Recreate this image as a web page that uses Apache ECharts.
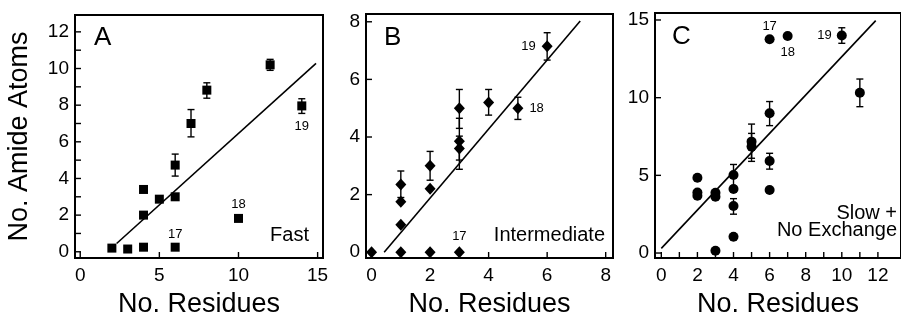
<!DOCTYPE html>
<html>
<head>
<meta charset="utf-8">
<script src="https://cdn.jsdelivr.net/npm/echarts@6/dist/echarts.min.js"></script>
<style>
  html, body { margin: 0; padding: 0; background: #fff; }
  #chart { width: 901px; height: 323px; }
</style>
</head>
<body>
<div id="chart"></div>
<script>
// A: fast exchange
const fastX = [2, 3, 4, 4, 4, 5, 6, 6, 6, 7, 8, 10, 12, 14];
const fastY = [0.2, 0.15, 0.25, 2.0, 3.4, 2.87, 0.25, 3.0, 4.73, 7.0, 8.82, 1.82, 10.2, 7.96];
const fastTags = ['', '', '', '', '', '', '17', '', '', '', '', '18', '', '19'];
const fastErr = [[5, 2.7, 3.05], [6, 4.13, 5.33], [7, 6.27, 7.76], [8, 8.38, 9.22], [12, 9.9, 10.5], [14, 7.55, 8.35]];
const fastFit = [[2.3, 0.45], [14.9, 10.28]];
const fastTicksX = [0, 5, 10, 15];
const fastTicksY = [0, 1, 2, 3, 4, 5, 6, 7, 8, 9, 10, 11, 12];
const fastLabelsY = [0, 2, 4, 6, 8, 10, 12];

// B: intermediate
const interX = [0, 1, 1, 1, 1, 2, 2, 2, 3, 3, 3, 3, 4, 5, 6];
const interY = [0, 0, 0.95, 1.75, 2.35, 0, 2.2, 3.0, 0, 3.6, 3.85, 5.0, 5.2, 5.0, 7.15];
const interTags = ['', '', '', '', '', '', '', '', '17', '', '', '', '', '18', '19'];
const interErr = [[1, 1.9, 2.82], [2, 2.5, 3.5], [3, 3.2, 4.03], [3, 2.88, 4.65], [3, 4.3, 5.65], [4, 4.76, 5.65], [5, 4.61, 5.38], [6, 6.67, 7.62]];
const interFit = [[0.43, 0], [7.13, 8.03]];
const interTicksX = [0, 2, 4, 6, 8];
const interTicksY = [0, 2, 4, 6, 8];

// C: slow + no exchange
const slowX = [2, 2, 2, 3, 3, 3, 4, 4, 4, 4, 5, 5, 6, 6, 6, 6, 7, 10, 11];
const slowY = [4.85, 3.9, 3.69, 3.88, 3.63, 0.15, 5.02, 4.12, 3.03, 1.05, 7.17, 6.85, 9.0, 5.92, 4.06, 13.76, 13.97, 14.0, 10.32];
const slowTags = ['', '', '', '', '', '', '', '', '', '', '', '', '', '', '', '17', '18', '19', ''];
const slowErr = [[4, 4.3, 5.7], [4, 2.5, 3.5], [5, 6.1, 8.3], [5, 5.9, 7.7], [6, 8.2, 9.75], [6, 5.4, 6.42], [10, 13.5, 14.5], [11, 9.42, 11.2]];
const slowFit = [[0.0, 0.3], [11.88, 14.96]];
const slowTicksX = [0, 1, 2, 3, 4, 5, 6, 7, 8, 9, 10, 11, 12];
const slowLabelsX = [0, 2, 4, 6, 8, 10, 12];
const slowTicksY = [0, 5, 10, 15];

const FONT = "'Liberation Sans', Arial, Helvetica, sans-serif";

const panels = [
  {
    grid: { left: 75, top: 15, width: 248, height: 243 },
    x: [-0.33, 15.34], y: [-0.34, 12.92],
    ticksX: fastTicksX, labelsX: fastTicksX, ticksY: fastTicksY, labelsY: fastLabelsY,
    xs: fastX, ys: fastY, tags: fastTags, err: fastErr, fit: fastFit,
    symbol: 'rect', size: 9, yName: 'No. Amide Atoms',
    tagPos: { '17': ['top', 2], '18': ['top', 3], '19': ['bottom', 10] }
  },
  {
    grid: { left: 366, top: 14, width: 247, height: 244 },
    x: [-0.19, 8.25], y: [-0.2, 8.27],
    ticksX: interTicksX, labelsX: interTicksX, ticksY: interTicksY, labelsY: interTicksY,
    xs: interX, ys: interY, tags: interTags, err: interErr, fit: interFit,
    symbol: 'diamond', size: [11, 12], yName: '',
    tagPos: { '17': ['top', 3], '18': ['right', 6], '19': ['left', 6] }
  },
  {
    grid: { left: 655, top: 13, width: 255, height: 245 },
    x: [-0.35, 13.28], y: [-0.32, 15.45],
    ticksX: slowTicksX, labelsX: slowLabelsX, ticksY: slowTicksY, labelsY: slowTicksY,
    xs: slowX, ys: slowY, tags: slowTags, err: slowErr, fit: slowFit,
    symbol: 'circle', size: 10, yName: '',
    tagPos: { '17': ['top', 1], '18': ['bottom', 5], '19': ['left', 5] }
  }
];

const axisLine = { show: true, onZero: false, lineStyle: { color: '#000', width: 2 } };
const TICK_LEN = 6;
const inkStyle = { stroke: '#000', lineWidth: 1.4 };

const grids = [], xAxes = [], yAxes = [], series = [];

panels.forEach((p, i) => {
  grids.push(Object.assign({
    show: true, borderColor: '#000', borderWidth: 2, backgroundColor: 'transparent'
  }, p.grid));

  xAxes.push({
    type: 'value', gridIndex: i, min: p.x[0], max: p.x[1],
    axisLine,
    axisTick: { show: false },
    axisLabel: { customValues: p.labelsX, color: '#000', fontFamily: FONT, fontSize: 19, margin: 8 },
    splitLine: { show: false },
    name: 'No. Residues', nameLocation: 'middle', nameGap: 33,
    nameTextStyle: { color: '#000', fontFamily: FONT, fontSize: 27 }
  });

  yAxes.push({
    type: 'value', gridIndex: i, min: p.y[0], max: p.y[1],
    axisLine,
    axisTick: { show: false },
    axisLabel: { customValues: p.labelsY, color: '#000', fontFamily: FONT, fontSize: 19, margin: 6 },
    splitLine: { show: false },
    name: p.yName, nameLocation: 'middle', nameGap: 42,
    nameTextStyle: { color: '#000', fontFamily: FONT, fontSize: 27 }
  });

  // inside tick marks on the bottom axis
  series.push({
    type: 'custom', xAxisIndex: i, yAxisIndex: i, z: 4, silent: true,
    data: p.ticksX.map(v => [v, 0]),
    renderItem: (params, api) => {
      const cs = params.coordSys;
      const px = api.coord([api.value(0), 0])[0];
      const by = cs.y + cs.height;
      return { type: 'line', shape: { x1: px, y1: by, x2: px, y2: by - TICK_LEN }, style: inkStyle };
    }
  });

  // inside tick marks on the left axis
  series.push({
    type: 'custom', xAxisIndex: i, yAxisIndex: i, z: 4, silent: true,
    data: p.ticksY.map(v => [0, v]),
    renderItem: (params, api) => {
      const cs = params.coordSys;
      const py = api.coord([0, api.value(1)])[1];
      return { type: 'line', shape: { x1: cs.x, y1: py, x2: cs.x + TICK_LEN, y2: py }, style: inkStyle };
    }
  });

  // error bars
  series.push({
    type: 'custom', xAxisIndex: i, yAxisIndex: i, z: 2, silent: true,
    data: p.err,
    renderItem: (params, api) => {
      const lo = api.coord([api.value(0), api.value(1)]);
      const hi = api.coord([api.value(0), api.value(2)]);
      const w = 3.5;
      return {
        type: 'group',
        children: [
          { type: 'line', shape: { x1: lo[0], y1: lo[1], x2: hi[0], y2: hi[1] }, style: inkStyle },
          { type: 'line', shape: { x1: lo[0] - w, y1: lo[1], x2: lo[0] + w, y2: lo[1] }, style: inkStyle },
          { type: 'line', shape: { x1: hi[0] - w, y1: hi[1], x2: hi[0] + w, y2: hi[1] }, style: inkStyle }
        ]
      };
    }
  });

  // regression line
  series.push({
    type: 'line', xAxisIndex: i, yAxisIndex: i, z: 1,
    data: p.fit, showSymbol: false, symbol: 'none',
    lineStyle: { color: '#000', width: 1.6 }
  });

  // points
  series.push({
    type: 'scatter', xAxisIndex: i, yAxisIndex: i, z: 3,
    symbol: p.symbol, symbolSize: p.size,
    itemStyle: { color: '#000', opacity: 1 },
    data: p.xs.map((x, k) => {
      const item = { value: [x, p.ys[k]] };
      const t = p.tags[k];
      if (t) {
        item.label = {
          show: true, formatter: t, position: p.tagPos[t][0], distance: p.tagPos[t][1],
          color: '#000', fontFamily: FONT, fontSize: 13
        };
      }
      return item;
    })
  });
});

const textStyle = (size) => ({ fill: '#000', font: `${size}px ${FONT}` });

const myChart = echarts.init(document.getElementById('chart'), null, { renderer: 'canvas' });

myChart.setOption({
  animation: false,
  backgroundColor: '#fff',
  grid: grids,
  xAxis: xAxes,
  yAxis: yAxes,
  series,
  graphic: [
    { type: 'text', x: 94, y: 38, style: Object.assign({ text: 'A', verticalAlign: 'middle' }, textStyle(26)) },
    { type: 'text', x: 384, y: 38, style: Object.assign({ text: 'B', verticalAlign: 'middle' }, textStyle(26)) },
    { type: 'text', x: 672, y: 37, style: Object.assign({ text: 'C', verticalAlign: 'middle' }, textStyle(26)) },
    { type: 'text', x: 309, y: 235, style: Object.assign({ text: 'Fast', align: 'right', verticalAlign: 'middle' }, textStyle(20)) },
    { type: 'text', x: 605, y: 235, style: Object.assign({ text: 'Intermediate', align: 'right', verticalAlign: 'middle' }, textStyle(20)) },
    { type: 'text', x: 897, y: 213, style: Object.assign({ text: 'Slow +', align: 'right', verticalAlign: 'middle' }, textStyle(20)) },
    { type: 'text', x: 897, y: 230, style: Object.assign({ text: 'No Exchange', align: 'right', verticalAlign: 'middle' }, textStyle(20)) }
  ]
});
</script>
</body>
</html>
